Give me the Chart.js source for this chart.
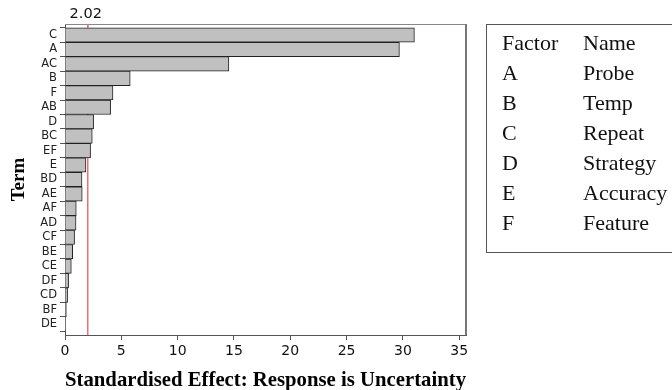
<!DOCTYPE html>
<html><head><meta charset="utf-8">
<script src="https://cdn.jsdelivr.net/npm/chart.js@4"></script>
<style>
html,body{margin:0;padding:0;background:#fff;}
#wrap{position:relative;width:672px;height:390px;overflow:hidden;background:#fff;}
#c{position:absolute;left:0;top:0;}
#legend{position:absolute;left:486px;top:24px;width:220px;height:227px;border:1px solid #555;
  font-family:"Liberation Serif","Times New Roman",serif;font-size:22px;color:#111;}
#legend .row{position:absolute;left:0;width:100%;height:30px;line-height:30px;white-space:nowrap;}
#legend .f{position:absolute;left:15px;top:0;}
#legend .n{position:absolute;left:96px;top:0;}
</style></head>
<body><div id="wrap"><canvas id="c" width="672" height="390"></canvas><div id="legend"></div></div>
<script>
const terms = ['C','A','AC','B','F','AB','D','BC','EF','E','BD','AE','AF','AD','CF','BE','CE','DF','CD','BF','DE'];
const effects = [31.02,29.69,14.55,5.79,4.26,4.05,2.54,2.42,2.27,1.86,1.51,1.53,1.00,0.98,0.85,0.68,0.56,0.32,0.23,0.12,0.03];
const refValue = 2.02;
const refLabel = '2.02';
const legendHeader = ['Factor','Name'];
const factors = ['A','B','C','D','E','F'];
const factorNames = ['Probe','Temp','Repeat','Strategy','Accuracy','Feature'];
const xTitle = 'Standardised Effect: Response is Uncertainty';
const yTitle = 'Term';

// legend table (real DOM text)
const lg = document.getElementById('legend');
const rows = [legendHeader].concat(factors.map((f,i)=>[f,factorNames[i]]));
rows.forEach((r,i)=>{
  const d = document.createElement('div');
  d.className = 'row';
  d.style.top = (3 + i*30) + 'px';
  const a = document.createElement('span'); a.className='f'; a.textContent = r[0];
  const b = document.createElement('span'); b.className='n'; b.textContent = r[1];
  d.appendChild(a); d.appendChild(b); lg.appendChild(d);
});

const framePlugin = {
  id: 'frame',
  beforeDatasetsDraw(chart){
    const {ctx, chartArea:ca, scales:{x}} = chart;
    const px = x.getPixelForValue(refValue);
    ctx.save();
    ctx.strokeStyle = '#f07070';
    ctx.lineWidth = 1.5;
    ctx.beginPath(); ctx.moveTo(px, ca.top); ctx.lineTo(px, ca.bottom); ctx.stroke();
    ctx.restore();
  },
  afterDatasetsDraw(chart){
    const {ctx, chartArea:ca, scales:{x}} = chart;
    ctx.save();
    ctx.strokeStyle = '#888';
    ctx.lineWidth = 1;
    ctx.beginPath(); ctx.moveTo(ca.left, ca.top+0.5); ctx.lineTo(ca.right, ca.top+0.5); ctx.stroke();
    ctx.strokeStyle = '#777';
    ctx.lineWidth = 2;
    ctx.beginPath(); ctx.moveTo(ca.right, ca.top); ctx.lineTo(ca.right, ca.bottom); ctx.stroke();
    const px = x.getPixelForValue(refValue);
    ctx.strokeStyle = '#f07070'; ctx.lineWidth = 1.5;
    ctx.beginPath(); ctx.moveTo(px, ca.top); ctx.lineTo(px, ca.top+3); ctx.stroke();
    ctx.fillStyle = '#111';
    ctx.font = '14.5px "DejaVu Sans"';
    ctx.textAlign = 'center'; ctx.textBaseline = 'middle';
    ctx.fillText(refLabel, px - 2, ca.top - 10);
    ctx.restore();
  }
};

new Chart(document.getElementById('c'), {
  type: 'bar',
  data: {
    datasets: [{
      data: terms.map((t,i)=>({x: effects[i], y: i})),
      backgroundColor: '#c0c0c0',
      borderColor: '#222',
      borderWidth: 1,
      barPercentage: 1,
      categoryPercentage: 1
    }]
  },
  options: {
    indexAxis: 'y',
    responsive: false,
    animation: false,
    devicePixelRatio: 1,
    layout: {padding: {left: 0, right: 206, top: 24, bottom: 0}},
    plugins: {legend: {display: false}, tooltip: {enabled: false}},
    scales: {
      x: {
        type: 'linear', position: 'bottom', min: 0, max: 35.6,
        ticks: {stepSize: 5, includeBounds: false, font: {family: 'DejaVu Sans', size: 14}, color: '#111', padding: 3, maxRotation: 0},
        grid: {drawOnChartArea: false, drawTicks: true, tickLength: 5, color: '#555'},
        border: {color: '#555', width: 1},
        title: {display: true, text: xTitle, color: '#000', font: {family: 'Liberation Serif', size: 22, weight: 'bold', lineHeight: 0.9}, padding: {top: 0, bottom: 0}},
        afterFit(s){ s.height = 55; }
      },
      y: {
        type: 'linear', position: 'left', reverse: true, offset: false, min: -0.76, max: 20.76,
        ticks: {stepSize: 1, includeBounds: false, autoSkip: false, maxTicksLimit: 100,
          callback: (v)=> (terms[v] !== undefined ? terms[v] : ''),
          font: {family: 'DejaVu Sans', size: 11.5}, color: '#222', padding: 3},
        grid: {drawOnChartArea: false, drawTicks: true, tickLength: 5, color: '#555'},
        border: {color: '#555', width: 1},
        title: {display: true, text: yTitle, color: '#000', font: {family: 'Liberation Serif', size: 19, weight: 'bold'}, padding: {top: 8, bottom: 0}},
        afterFit(s){ s.width = 65; }
      }
    }
  },
  plugins: [framePlugin]
});
</script>
</body></html>
